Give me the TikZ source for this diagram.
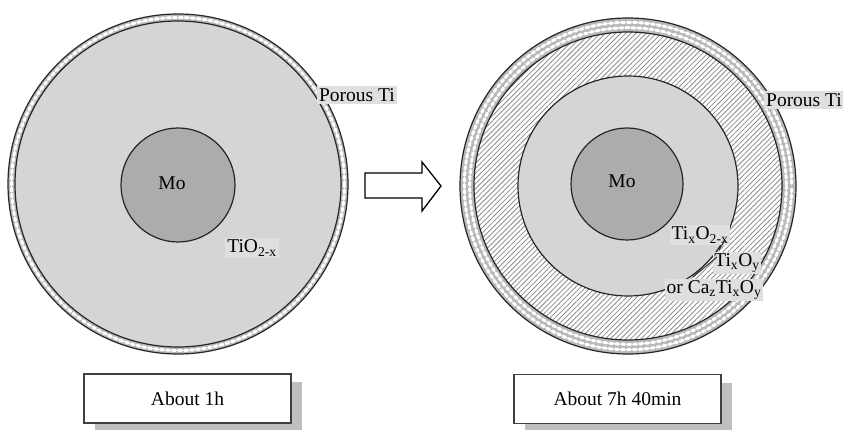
\documentclass[tikz,border=0pt]{standalone}
\usepackage{fontspec}
\setmainfont{Liberation Serif}
\usetikzlibrary{patterns.meta,shadows}
\begin{document}
\begin{tikzpicture}[x=1pt,y=-1pt,
  lbl/.style={fill=gray!25,inner sep=2pt,font=\fontsize{19.5}{22}\selectfont},
  plain/.style={inner sep=0pt,font=\fontsize{19.5}{22}\selectfont},
  outl/.style={draw=black!85,line width=1.2pt},
  timebox/.style={draw=black!75,line width=1.4pt,fill=white,minimum width=207pt,minimum height=49pt,
    font=\fontsize{19.5}{22}\selectfont,
    drop shadow={shadow xshift=11pt,shadow yshift=-8pt,fill=gray!50,opacity=1}},
  porous/.style={white,line cap=round,dash pattern=on 3pt off 3pt},
  hatch/.style={pattern={Lines[angle=45,distance=3.6pt,line width=0.8pt]},pattern color=black!45},
  dots/.style={pattern={Dots[distance=2pt,radius=0.35pt]},pattern color=gray!60}
]
\useasboundingbox (0,0) rectangle (843,430);
% ---------- left sphere ----------
\coordinate (L) at (178,184);
\fill[gray!55,even odd rule] (L) circle (170) (L) circle (163);
\draw[porous,line width=3pt] (L) circle (166.5);
\fill[gray!30] (L) circle (163);
\pattern[dots] (L) circle (163);
\draw[outl] (L) circle (170);
\draw[outl] (L) circle (163);
\fill[gray!65] (178,185) circle (57);
\draw[outl] (178,185) circle (57);
\node[plain] (moL) at (172,183) {Mo};
\node[lbl] (tioL) at (252,248) {TiO\textsubscript{2-x}};
\node[lbl] (porL) at (357,95) {Porous Ti};
% ---------- arrow ----------
\draw[line width=1.3pt,line join=miter,fill=white]
  (365,173) -- (422,173) -- (422,162) -- (441,186) -- (422,211) -- (422,198) -- (365,198) -- cycle;
% ---------- right sphere ----------
\coordinate (R) at (628,186);
\fill[gray!55,even odd rule] (R) circle (168) (R) circle (154);
\draw[porous,line width=3pt] (R) circle (158.3);
\draw[porous,line width=3pt,dash phase=3pt] (R) circle (163.7);
\fill[white] (R) circle (154);
\pattern[hatch] (R) circle (154);
\fill[gray!30] (R) circle (110);
\pattern[dots] (R) circle (110);
\draw[outl] (R) circle (168);
\draw[outl] (R) circle (154);
\draw[outl] (R) circle (110);
\fill[gray!65] (627,184) circle (56);
\draw[outl] (627,184) circle (56);
\node[plain] (moR) at (622,181) {Mo};
\node[lbl] (porR) at (804,100) {Porous Ti};
\node[lbl,inner sep=1.5pt] (orl) at (714,290) {or Ca\textsubscript{z}Ti\textsubscript{x}O\textsubscript{y}};
\node[lbl,inner sep=1.5pt] (txo) at (737,263) {Ti\textsubscript{x}O\textsubscript{y}};
\node[lbl,inner sep=1.5pt] (txo2) at (700,235) {Ti\textsubscript{x}O\textsubscript{2-x}};
\coordinate (a1) at (725,240);
\coordinate (a2) at (719,250);
\coordinate (b1) at (717,257);
\coordinate (b2) at (693,277);
\draw[outl,line width=1pt] (a1) -- (a2);
\draw[outl,line width=1pt] (b1) -- (b2);
% ---------- time boxes ----------
\node[timebox] (t1) at (187.5,398.5) {About 1h};
\node[timebox] (t2) at (617.5,399) {About 7h 40min};
\end{tikzpicture}
\end{document}
